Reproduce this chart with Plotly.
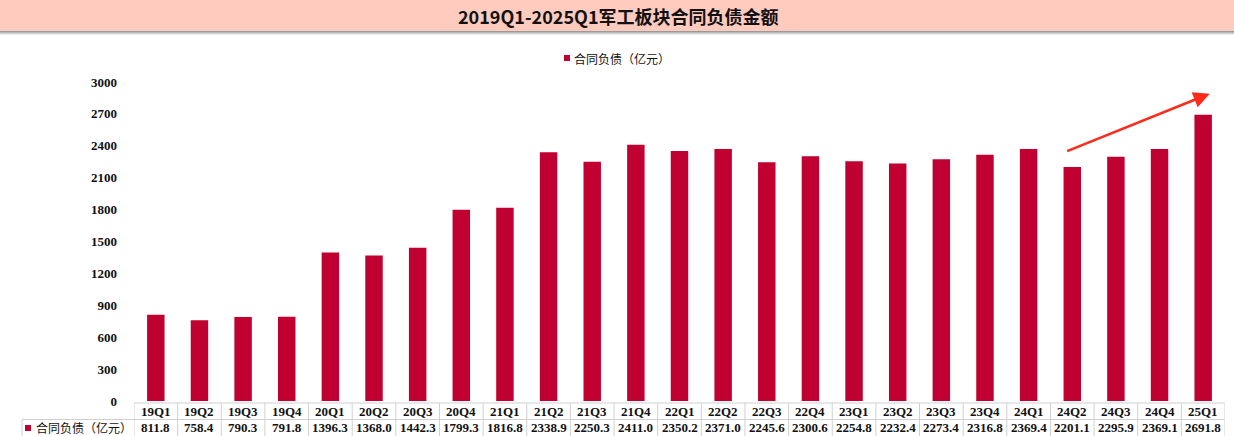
import plotly.graph_objects as go

categories = ["19Q1","19Q2","19Q3","19Q4","20Q1","20Q2","20Q3","20Q4","21Q1","21Q2","21Q3","21Q4",
              "22Q1","22Q2","22Q3","22Q4","23Q1","23Q2","23Q3","23Q4","24Q1","24Q2","24Q3","24Q4","25Q1"]
values = [811.8,758.4,790.3,791.8,1396.3,1368.0,1442.3,1799.3,1816.8,2338.9,2250.3,2411.0,
          2350.2,2371.0,2245.6,2300.6,2254.8,2232.4,2273.4,2316.8,2369.4,2201.1,2295.9,2369.1,2691.8]
series_name = "合同负债（亿元）"
title_text = "2019Q1-2025Q1军工板块合同负债金额"
y_ticks = [0,300,600,900,1200,1500,1800,2100,2400,2700,3000]

BAR = "#C00030"
W, H = 1234, 436
ML, MR, MT, MB = 134, 9, 82, 35
PW = W - ML - MR
PH = H - MT - MB

def py(px):  # pixel y -> paper y
    return (H - MB - px) / PH

def pxx(px):  # pixel x -> paper x
    return (px - ML) / PW

serif = "Liberation Serif"
cjk = "Noto Sans CJK SC"
TXT = "#111111"

fig = go.Figure()
fig.add_trace(go.Bar(x=categories, y=values, name=series_name, marker_color=BAR,
                     marker_line_width=0, showlegend=False))

shapes = []
annotations = []

# title banner + shadow
for i, c in enumerate(["#9a9a9a", "#b8b8b8", "#d4d4d4", "#ececec"]):
    shapes.append(dict(type="rect", xref="paper", yref="paper", x0=pxx(0), x1=pxx(W),
                       y0=py(31 + i + 1), y1=py(31 + i), fillcolor=c, line_width=0, layer="above"))
shapes.append(dict(type="rect", xref="paper", yref="paper", x0=pxx(0), x1=pxx(W),
                   y0=py(31), y1=py(0), fillcolor="#FFCBBE", line_width=0, layer="above"))
annotations.append(dict(text="<b>" + title_text + "</b>", xref="paper", yref="paper",
                        x=pxx(618), y=py(16), showarrow=False, xanchor="center", yanchor="middle",
                        font=dict(family=cjk, size=18, color=TXT)))

# legend (top)
shapes.append(dict(type="rect", xref="paper", yref="paper", x0=pxx(564), x1=pxx(570),
                   y0=py(61), y1=py(55), fillcolor=BAR, line_width=0))
annotations.append(dict(text=series_name, xref="paper", yref="paper", x=pxx(572), y=py(58),
                        xanchor="left", yanchor="middle", showarrow=False,
                        font=dict(family=cjk, size=12, color=TXT)))

# data table
line_c = "#d0d0d0"
y_top, y_mid, y_bot = py(403), py(419.5), py(436)
n = len(categories)
shapes.append(dict(type="line", xref="x", yref="paper", x0=-0.5, x1=n - 0.5, y0=y_top, y1=y_top,
                   line=dict(color=line_c, width=1)))
shapes.append(dict(type="line", xref="paper", yref="paper", x0=pxx(22), x1=pxx(ML), y0=y_mid, y1=y_mid,
                   line=dict(color=line_c, width=1)))
shapes.append(dict(type="line", xref="x", yref="paper", x0=-0.5, x1=n - 0.5, y0=y_mid, y1=y_mid,
                   line=dict(color=line_c, width=1)))
shapes.append(dict(type="line", xref="paper", yref="paper", x0=pxx(22), x1=pxx(22), y0=y_mid, y1=y_bot,
                   line=dict(color=line_c, width=1)))
for i in range(n + 1):
    shapes.append(dict(type="line", xref="x", yref="paper", x0=i - 0.5, x1=i - 0.5, y0=y_top, y1=y_bot,
                       line=dict(color=line_c, width=1)))
for c, v in zip(categories, values):
    annotations.append(dict(text="<b>" + c + "</b>", x=c, y=(y_top + y_mid) / 2, xref="x", yref="paper",
                            xanchor="center", yanchor="middle",
                            showarrow=False, font=dict(family=serif, size=13, color=TXT)))
    annotations.append(dict(text="<b>%.1f</b>" % v, x=c, y=(y_mid + y_bot) / 2, xref="x", yref="paper",
                            xanchor="center", yanchor="middle",
                            showarrow=False, font=dict(family=serif, size=13, color=TXT)))
shapes.append(dict(type="rect", xref="paper", yref="paper", x0=pxx(25), x1=pxx(31),
                   y0=py(431), y1=py(425), fillcolor=BAR, line_width=0))
annotations.append(dict(text=series_name, xref="paper", yref="paper", x=pxx(34), y=(y_mid + y_bot) / 2,
                        xanchor="left", yanchor="middle", showarrow=False,
                        font=dict(family=cjk, size=12, color=TXT)))

# trend arrow
annotations.append(dict(x=24.15, y=2890, ax=20.85, ay=2345, xref="x", yref="y", axref="x", ayref="y",
                        text="", showarrow=True, arrowhead=2, arrowsize=1.3, arrowwidth=2.5,
                        arrowcolor="#FF2A1A"))

fig.update_layout(
    width=W, height=H,
    margin=dict(l=ML, r=MR, t=MT, b=MB),
    paper_bgcolor="white", plot_bgcolor="white",
    bargap=0.6,
    showlegend=False,
    shapes=shapes, annotations=annotations,
    xaxis=dict(type="category", range=[-0.5, n - 0.5], showticklabels=False, showgrid=False,
               showline=False, zeroline=False, ticks=""),
    yaxis=dict(range=[0, 3000], tickvals=y_ticks, showgrid=False, zeroline=False, showline=False,
               ticks="", ticklabelstandoff=16,
               tickfont=dict(family=serif, size=13, color=TXT, weight="bold")),
)

fig.write_html("out.html", config={"displayModeBar": False},
               post_script="document.body.style.margin='0';document.body.style.padding='0';")
